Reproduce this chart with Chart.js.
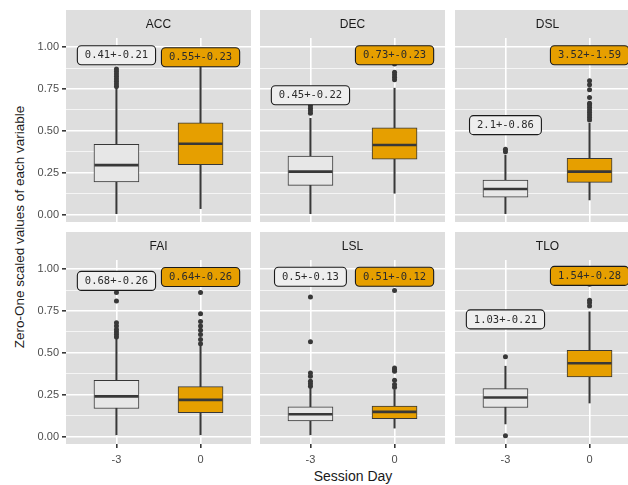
<!DOCTYPE html>
<html>
<head>
<meta charset="utf-8">
<script src="https://cdn.jsdelivr.net/npm/chart.js@4.4.1/dist/chart.umd.min.js"></script>
<style>
    body { margin: 0; width: 628px; height: 485px; overflow: hidden; background: #fff; position: relative; font-family: "Liberation Sans", Arial, sans-serif; }
    canvas.panel { position: absolute; }
    .y-title { position: absolute; left: 19px; top: 227px; transform: translate(-50%, -50%) rotate(-90deg); white-space: nowrap; font-size: 13.5px; color: #1a1a1a; }
    .x-title { position: absolute; left: 353px; top: 476px; transform: translate(-50%, -50%); white-space: nowrap; font-size: 14px; color: #1a1a1a; }
</style>
</head>
<body>
<div class="y-title">Zero-One scaled values of each variable</div>
<div class="x-title">Session Day</div>
<script>
// facets and groups
const variables = ['ACC', 'DEC', 'DSL', 'FAI', 'LSL', 'TLO'];
const sessionDays = ['-3', '0'];
const yTickValues = [0, 0.25, 0.5, 0.75, 1];
const yTickLabels = ['0.00', '0.25', '0.50', '0.75', '1.00'];
const yMinorTicks = [0.125, 0.375, 0.625, 0.875];

// session day -3 (one value per variable)
const lowM3 = [0.0, 0.0, 0.005, 0.01, 0.01, 0.075];
const q1M3 = [0.195, 0.174, 0.103, 0.167, 0.093, 0.173];
const medM3 = [0.295, 0.256, 0.152, 0.24, 0.133, 0.233];
const q3M3 = [0.42, 0.349, 0.206, 0.336, 0.177, 0.286];
const highM3 = [0.755, 0.575, 0.355, 0.585, 0.29, 0.42];
const outM3 = [
    [0.765, 0.78, 0.795, 0.81, 0.825, 0.84, 0.855, 0.87],
    [0.605, 0.62, 0.635, 0.65],
    [0.375, 0.39],
    [0.595, 0.61, 0.625, 0.64, 0.66, 0.68, 0.81, 0.86],
    [0.30, 0.315, 0.33, 0.36, 0.38, 0.567, 0.834],
    [0.004, 0.477]
];
const meanSdM3 = ['0.41+-0.21', '0.45+-0.22', '2.1+-0.86', '0.68+-0.26', '0.5+-0.13', '1.03+-0.21'];
const labelYM3 = [0.952, 0.713, 0.534, 0.93, 0.955, 0.70];

// session day 0
const low0 = [0.035, 0.127, 0.087, 0.01, 0.05, 0.2];
const q1D0 = [0.297, 0.33, 0.192, 0.143, 0.107, 0.356];
const med0 = [0.423, 0.415, 0.256, 0.219, 0.147, 0.438];
const q3D0 = [0.548, 0.518, 0.335, 0.298, 0.181, 0.515];
const high0 = [0.92, 0.755, 0.545, 0.54, 0.28, 0.745];
const out0 = [
    [],
    [0.805, 0.82, 0.835, 0.85, 0.9],
    [0.565, 0.58, 0.595, 0.61, 0.625, 0.64, 0.655, 0.665, 0.70, 0.745, 0.775, 0.80],
    [0.555, 0.58, 0.61, 0.635, 0.66, 0.687, 0.734, 0.86],
    [0.295, 0.31, 0.336, 0.39, 0.40, 0.41, 0.873],
    [0.78, 0.80, 0.815, 0.91]
];
const meanSd0 = ['0.55+-0.23', '0.73+-0.23', '3.52+-1.59', '0.64+-0.26', '0.51+-0.12', '1.54+-0.28'];
const labelY0 = [0.94, 0.952, 0.952, 0.953, 0.955, 0.96];

const PANEL_BG = '#dedede';
const LINE = '#383838';
const FILLS = ['#e7e7e7', '#e69f00'];
const LABEL_FILLS = ['#eeeeee', '#e69f00'];

// canvas placement for the 2x3 facet grid
const layout = [
    { left: 20, top: 10, width: 231, height: 212 },
    { left: 260, top: 10, width: 185, height: 212 },
    { left: 455, top: 10, width: 185, height: 212 },
    { left: 20, top: 232, width: 231, height: 234 },
    { left: 260, top: 232, width: 185, height: 234 },
    { left: 455, top: 232, width: 185, height: 234 }
];

const panelBackground = {
    id: 'panelBackground',
    beforeDraw(chart) {
        const a = chart.chartArea;
        const ctx = chart.ctx;
        ctx.save();
        ctx.fillStyle = PANEL_BG;
        ctx.fillRect(a.left, 0, a.right - a.left, a.bottom);
        ctx.restore();
    }
};

const meanLabels = {
    id: 'meanLabels',
    afterDatasetsDraw(chart, args, opts) {
        const ctx = chart.ctx;
        const xs = chart.scales.x;
        const ys = chart.scales.y;
        ctx.save();
        ctx.font = '10.5px "DejaVu Sans Mono", monospace';
        ctx.textAlign = 'center';
        ctx.textBaseline = 'middle';
        opts.texts.forEach(function(text, i) {
            const x = xs.getPixelForValue(i);
            const y = ys.getPixelForValue(opts.ys[i]);
            const w = ctx.measureText(text).width + 15;
            const h = 19;
            ctx.beginPath();
            ctx.roundRect(x - w / 2, y - h / 2, w, h, 4);
            ctx.fillStyle = LABEL_FILLS[i];
            ctx.fill();
            ctx.lineWidth = 1.1;
            ctx.strokeStyle = '#1a1a1a';
            ctx.stroke();
            ctx.fillStyle = '#2b2b2b';
            ctx.fillText(text, x, y + 0.5);
        });
        ctx.restore();
    }
};

function isMajor(v) {
    return yTickValues.indexOf(v) !== -1;
}

function makePanel(k) {
    const box = layout[k];
    const firstCol = k % 3 === 0;
    const bottomRow = k >= 3;

    const canvas = document.createElement('canvas');
    canvas.className = 'panel';
    canvas.width = box.width;
    canvas.height = box.height;
    canvas.style.left = box.left + 'px';
    canvas.style.top = box.top + 'px';
    document.body.appendChild(canvas);

    const outliers = [];
    outM3[k].forEach(v => outliers.push({ x: 0, y: v }));
    out0[k].forEach(v => outliers.push({ x: 1, y: v }));

    new Chart(canvas, {
        type: 'bar',
        data: {
            datasets: [
                {
                    type: 'scatter',
                    data: outliers,
                    pointRadius: 2.5,
                    pointBackgroundColor: LINE,
                    pointBorderWidth: 0,
                    order: 1
                },
                {
                    type: 'scatter',
                    data: [{ x: 0, y: medM3[k] }, { x: 1, y: med0[k] }],
                    pointStyle: 'line',
                    pointRadius: 22,
                    pointBorderWidth: 2.6,
                    pointBorderColor: LINE,
                    order: 2
                },
                {
                    data: [{ x: 0, y: [q1M3[k], q3M3[k]] }, { x: 1, y: [q1D0[k], q3D0[k]] }],
                    backgroundColor: FILLS,
                    borderColor: LINE,
                    borderWidth: 1,
                    borderSkipped: false,
                    barThickness: 45,
                    grouped: false,
                    order: 3
                },
                {
                    data: [{ x: 0, y: [lowM3[k], highM3[k]] }, { x: 1, y: [low0[k], high0[k]] }],
                    backgroundColor: LINE,
                    borderWidth: 0,
                    barThickness: 1.4,
                    grouped: false,
                    order: 4
                }
            ]
        },
        options: {
            responsive: false,
            animation: false,
            layout: { padding: 0, autoPadding: false },
            plugins: {
                legend: { display: false },
                tooltip: { enabled: false },
                title: {
                    display: true,
                    text: variables[k],
                    fullSize: false,
                    color: '#1a1a1a',
                    font: { family: '"Liberation Sans", Arial, sans-serif', size: 12, weight: 'normal' },
                    padding: { top: 7, bottom: 6.6 }
                },
                meanLabels: { texts: [meanSdM3[k], meanSd0[k]], ys: [labelYM3[k], labelY0[k]] }
            },
            scales: {
                x: {
                    type: 'linear',
                    min: -0.6,
                    max: 1.6,
                    offset: false,
                    afterBuildTicks: axis => { axis.ticks = [{ value: 0 }, { value: 1 }]; },
                    afterFit: axis => { axis.height = bottomRow ? 22 : 0; },
                    border: { display: false },
                    grid: {
                        color: '#ffffff',
                        lineWidth: 1.6,
                        offset: false,
                        drawTicks: bottomRow,
                        tickLength: 4,
                        tickColor: LINE
                    },
                    ticks: {
                        display: bottomRow,
                        autoSkip: false,
                        maxRotation: 0,
                        padding: 5,
                        color: '#4d4d4d',
                        font: { family: '"Liberation Sans", Arial, sans-serif', size: 11 },
                        callback: v => sessionDays[v]
                    }
                },
                y: {
                    type: 'linear',
                    min: -0.045,
                    max: 1.055,
                    afterBuildTicks: axis => {
                        axis.ticks = yTickValues.concat(yMinorTicks).sort((a, b) => a - b).map(v => ({ value: v }));
                    },
                    afterFit: axis => {
                        axis.width = firstCol ? 46 : 0;
                        axis.paddingTop = 0;
                        axis.paddingBottom = 0;
                    },
                    border: { display: false },
                    grid: {
                        color: '#ffffff',
                        lineWidth: ctx => isMajor(ctx.tick.value) ? 1.6 : 0.7,
                        drawTicks: firstCol,
                        tickLength: 4,
                        tickColor: ctx => isMajor(ctx.tick.value) ? LINE : 'rgba(0,0,0,0)'
                    },
                    ticks: {
                        display: firstCol,
                        autoSkip: false,
                        padding: 3,
                        color: '#4d4d4d',
                        font: { family: '"Liberation Sans", Arial, sans-serif', size: 11 },
                        callback: v => isMajor(v) ? yTickLabels[yTickValues.indexOf(v)] : ''
                    }
                }
            }
        },
        plugins: [panelBackground, meanLabels]
    });
}

document.addEventListener('DOMContentLoaded', function() {
    for (let k = 0; k < variables.length; k++) {
        makePanel(k);
    }
});
</script>
</body>
</html>
